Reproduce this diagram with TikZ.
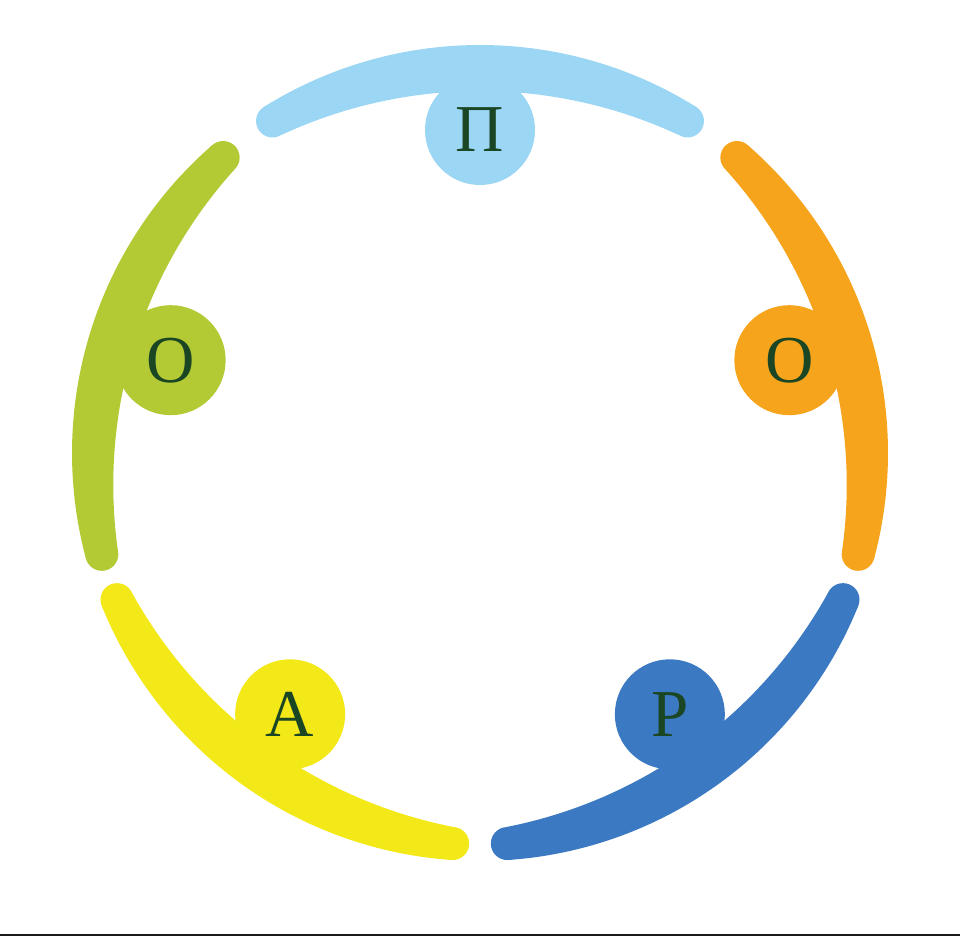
\documentclass[tikz,border=0pt]{standalone}
\usepackage{fontspec}
\setmainfont{Liberation Serif}
\definecolor{cLB}{HTML}{9BD6F4}
\definecolor{cOR}{HTML}{F6A41C}
\definecolor{cBL}{HTML}{3B7AC2}
\definecolor{cYE}{HTML}{F3E919}
\definecolor{cGR}{HTML}{B4CA34}
\definecolor{cTX}{HTML}{1B4624}
\definecolor{cLN}{HTML}{1A1A1A}
\tikzset{
  head/.style={circle, minimum size=110pt, inner sep=0pt, text=cTX,
    font=\fontsize{67}{67}\selectfont},
}
\newcommand\drawperson[5]{%
  \pgfmathsetmacro\aS{#1-32}\pgfmathsetmacro\aE{#1+32}%
  \fill[#2] plot[domain=\aS:\aE,samples=41,smooth] (\x:408)
    -- plot[domain=\aE:\aS,samples=41,smooth]
       (\x:{375-13*(1-((\x-(#1))/32)*((\x-(#1))/32))}) -- cycle;
  \fill[#2] (\aS:391.5) circle[radius=16.5];
  \fill[#2] (\aE:391.5) circle[radius=16.5];
  \node[head, fill=#2] (#4) at (#5:323) {#3};
}
\begin{document}
\begin{tikzpicture}[x=1pt,y=1pt]
\useasboundingbox (0,0) rectangle (960,936);
\fill[white] (0,0) rectangle (960,936);
\fill[cLN] (0,0) rectangle (960,2.5);
\begin{scope}[shift={(480,483)}]
  \drawperson{90}{cLB}{П}{p}{90}
  \drawperson{17}{cOR}{О}{o1}{16.7}
  \drawperson{-54}{cBL}{Р}{r}{-54}
  \drawperson{-126}{cYE}{А}{a}{-126}
  \drawperson{163}{cGR}{О}{o2}{163.3}
\end{scope}
\end{tikzpicture}
\end{document}
